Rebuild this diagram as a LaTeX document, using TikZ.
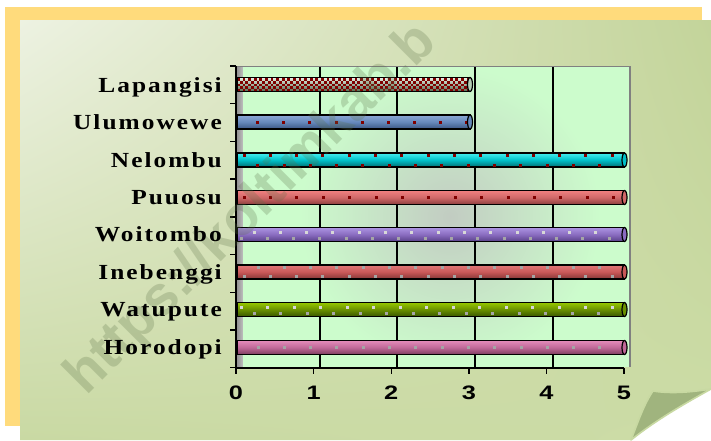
\documentclass[tikz,border=0pt]{standalone}
\usepackage{fontspec}
\usepackage{graphicx}
\usetikzlibrary{shadings}
\setmainfont{Liberation Serif}
\newfontfamily\labfont[LetterSpace=8]{Liberation Serif}
\newfontfamily\numfont{Liberation Sans}
\newfontfamily\wmfont{Liberation Sans}
\definecolor{ybg}{HTML}{FFDB7C}
\definecolor{pnlA}{HTML}{EDF2E2}
\definecolor{pnlB}{HTML}{C3D49A}
\definecolor{pnlC}{HTML}{C9D9A3}
\definecolor{pnlD}{HTML}{CCDCA6}
\definecolor{flap}{HTML}{A0B47E}
\definecolor{flapedge}{HTML}{C8D9A2}
\definecolor{wall}{HTML}{CCFCCC}
\definecolor{wallmid}{HTML}{C2CCC2}
\definecolor{wmc}{HTML}{5A7046}
\definecolor{dred}{HTML}{800000}
\definecolor{lapT}{RGB}{232,246,232}\definecolor{lapM}{RGB}{180,205,180}\definecolor{lapB}{RGB}{80,105,80}
\definecolor{uluT}{RGB}{140,168,214}\definecolor{uluM}{RGB}{102,136,187}\definecolor{uluB}{RGB}{58,86,132}
\definecolor{nelT}{RGB}{70,240,240}\definecolor{nelM}{RGB}{0,192,200}\definecolor{nelB}{RGB}{0,110,115}
\definecolor{puuT}{RGB}{240,128,128}\definecolor{puuM}{RGB}{208,104,104}\definecolor{puuB}{RGB}{140,62,62}
\definecolor{woiT}{RGB}{172,148,226}\definecolor{woiM}{RGB}{138,108,192}\definecolor{woiB}{RGB}{88,64,136}
\definecolor{ineT}{RGB}{226,120,120}\definecolor{ineM}{RGB}{200,88,88}\definecolor{ineB}{RGB}{132,54,54}
\definecolor{watT}{RGB}{150,200,0}\definecolor{watM}{RGB}{106,144,0}\definecolor{watB}{RGB}{56,86,0}
\definecolor{horT}{RGB}{228,140,186}\definecolor{horM}{RGB}{192,104,152}\definecolor{horB}{RGB}{124,60,94}
\definecolor{dotA}{RGB}{215,215,215}\definecolor{dotB}{RGB}{165,165,165}
\newcommand\cylbar[5]{%
  \shade[top color=#3, bottom color=#5, middle color=#4, draw=black, line width=1.2pt] (237,#1-7) rectangle (#2,#1+7);
}
\newcommand\cylcap[3]{%
  \filldraw[fill=#3, draw=black, line width=1.2pt] (#2,#1) ellipse (2.5 and 7);
}
\newcommand\dotrow[5]{% y, xstart, count, color, step
  \foreach \k in {0,...,#3} \fill[#4] ({#2+#5*\k-1.5},{#1-1.5}) rectangle ++(3,3);
}
\begin{document}
\begin{tikzpicture}[x=1pt,y=-1pt,
  lab/.style={anchor=base east, font=\labfont\bfseries\fontsize{21.5}{21.5}\selectfont, inner sep=0pt},
  num/.style={anchor=base, font=\numfont\bfseries\fontsize{19.5}{19.5}\selectfont, inner sep=0pt},
  grid/.style={draw=black, line width=1.3pt},
  tickl/.style={draw=black, line width=1.4pt}]
\useasboundingbox (0,0) rectangle (711,440);
\fill[white] (0,0) rectangle (711,440);
% yellow backing sheet
\fill[ybg] (5,7) rectangle (702,426);
% white behind the page curl
\fill[white] (631,440) .. controls (656,420) and (684,404) .. (711,389) -- (711,440) -- cycle;
% green panel with page curl
\shade[upper left=pnlA, upper right=pnlB, lower left=pnlC, lower right=pnlD]
  (20,20) -- (711,20) -- (711,389) .. controls (684,404) and (656,420) .. (631,440) -- (20,440) -- cycle;
% curl flap
\filldraw[fill=flap, draw=flapedge, line width=1.6pt, line join=round]
  (631,440) .. controls (638,422) and (644,404) .. (653,391)
  .. controls (672,394) and (692,392) .. (711,389)
  .. controls (684,404) and (656,420) .. (631,440) -- cycle;
% plot walls
\shade[left color=gray!90, right color=gray!50] (236,66) rectangle (243,367);
\fill[wall] (243,66) rectangle (630,367);
\shade[inner color=wallmid, outer color=wall] (300,66) rectangle (600,367);
\foreach \gx in {320,397,475,553} \draw[grid] (\gx,66) -- (\gx,367);
\draw[gray, line width=1pt] (236,66) -- (630,66);
\draw[gray, line width=2.2pt] (630,66) -- (630,367);
% axes
\draw[black, line width=1.6pt] (236,66) -- (236,368) -- (624,368);
\foreach \ty in {66,103.7,141.4,179.1,216.8,254.5,292.2,329.9,367.6} \draw[tickl] (230,\ty) -- (236,\ty);
\foreach \i in {0,...,5} \draw[tickl] ({236+77.6*\i},368) -- ({236+77.6*\i},374);
% Lapangisi (checkered)
\shade[top color=lapT, middle color=lapM, bottom color=lapB] (237,77.5) rectangle (470,91.5);
\begin{scope}
  \clip (237,78) rectangle (470,91);
  \foreach \r in {0,...,4} {
    \pgfmathsetmacro\off{mod(\r,2)*2.8}
    \foreach \c in {0,...,42} \fill[dred] ({237+\off+5.6*\c},{78+2.8*\r}) rectangle ++(2.8,2.8);
  }
\end{scope}
\draw[black, line width=1.2pt] (237,77.5) rectangle (470,91.5);
\cylcap{84.5}{470}{lapM}
% Ulumowewe
\cylbar{122}{470}{uluT}{uluM}{uluB}
\dotrow{122}{257.7}{8}{dred}{26.1}
\cylcap{122}{470}{uluM}
% Nelombu
\cylbar{160}{624.5}{nelT}{nelM}{nelB}
\dotrow{155}{244}{14}{dred}{26.3}
\dotrow{165}{257.7}{13}{dred}{26.3}
\cylcap{160}{624.5}{nelM}
% Puuosu
\cylbar{197.5}{624.5}{puuT}{puuM}{puuB}
\dotrow{197}{244}{14}{dred}{26.4}
\cylcap{197.5}{624.5}{puuM}
% Woitombo
\cylbar{234.5}{624.5}{woiT}{woiM}{woiB}
\dotrow{232}{254}{13}{dotA}{26.3}
\dotrow{238}{241}{14}{dotB}{26.3}
\cylcap{234.5}{624.5}{woiM}
% Inebenggi
\cylbar{272}{624.5}{ineT}{ineM}{ineB}
\dotrow{267}{258}{13}{dotB}{26.3}
\dotrow{276}{244}{14}{dotB}{26.3}
\cylcap{272}{624.5}{ineM}
% Watupute
\cylbar{309.5}{624.5}{watT}{watM}{watB}
\dotrow{307}{241}{14}{dotA}{26.5}
\dotrow{313}{254}{13}{dotB}{26.5}
\cylcap{309.5}{624.5}{watM}
% Horodopi
\cylbar{347.5}{624.5}{horT}{horM}{horB}
\dotrow{347}{258}{13}{dotB}{26.3}
\cylcap{347.5}{624.5}{horM}
% watermark
\node[rotate=45, text=wmc, opacity=0.25, font=\wmfont\bfseries\fontsize{56}{56}\selectfont, inner sep=0pt] (wm) at (252,210) {https://koltimkab.b};
% category labels
\node[lab] (l1) at (222,92) {\scalebox{1.18}[1]{Lapangisi}};
\node[lab] (l2) at (222,129.5) {\scalebox{1.18}[1]{Ulumowewe}};
\node[lab] (l3) at (222,167) {\scalebox{1.18}[1]{Nelombu}};
\node[lab] (l4) at (222,204.5) {\scalebox{1.18}[1]{Puuosu}};
\node[lab] (l5) at (222,241.5) {\scalebox{1.18}[1]{Woitombo}};
\node[lab] (l6) at (222,279) {\scalebox{1.18}[1]{Inebenggi}};
\node[lab] (l7) at (222,316.5) {\scalebox{1.18}[1]{Watupute}};
\node[lab] (l8) at (222,354.5) {\scalebox{1.18}[1]{Horodopi}};
% value labels
\foreach \i in {0,...,5} \node[num] (n\i) at ({236+77.6*\i},399) {\scalebox{1.3}[1]{\i}};
\end{tikzpicture}
\end{document}
